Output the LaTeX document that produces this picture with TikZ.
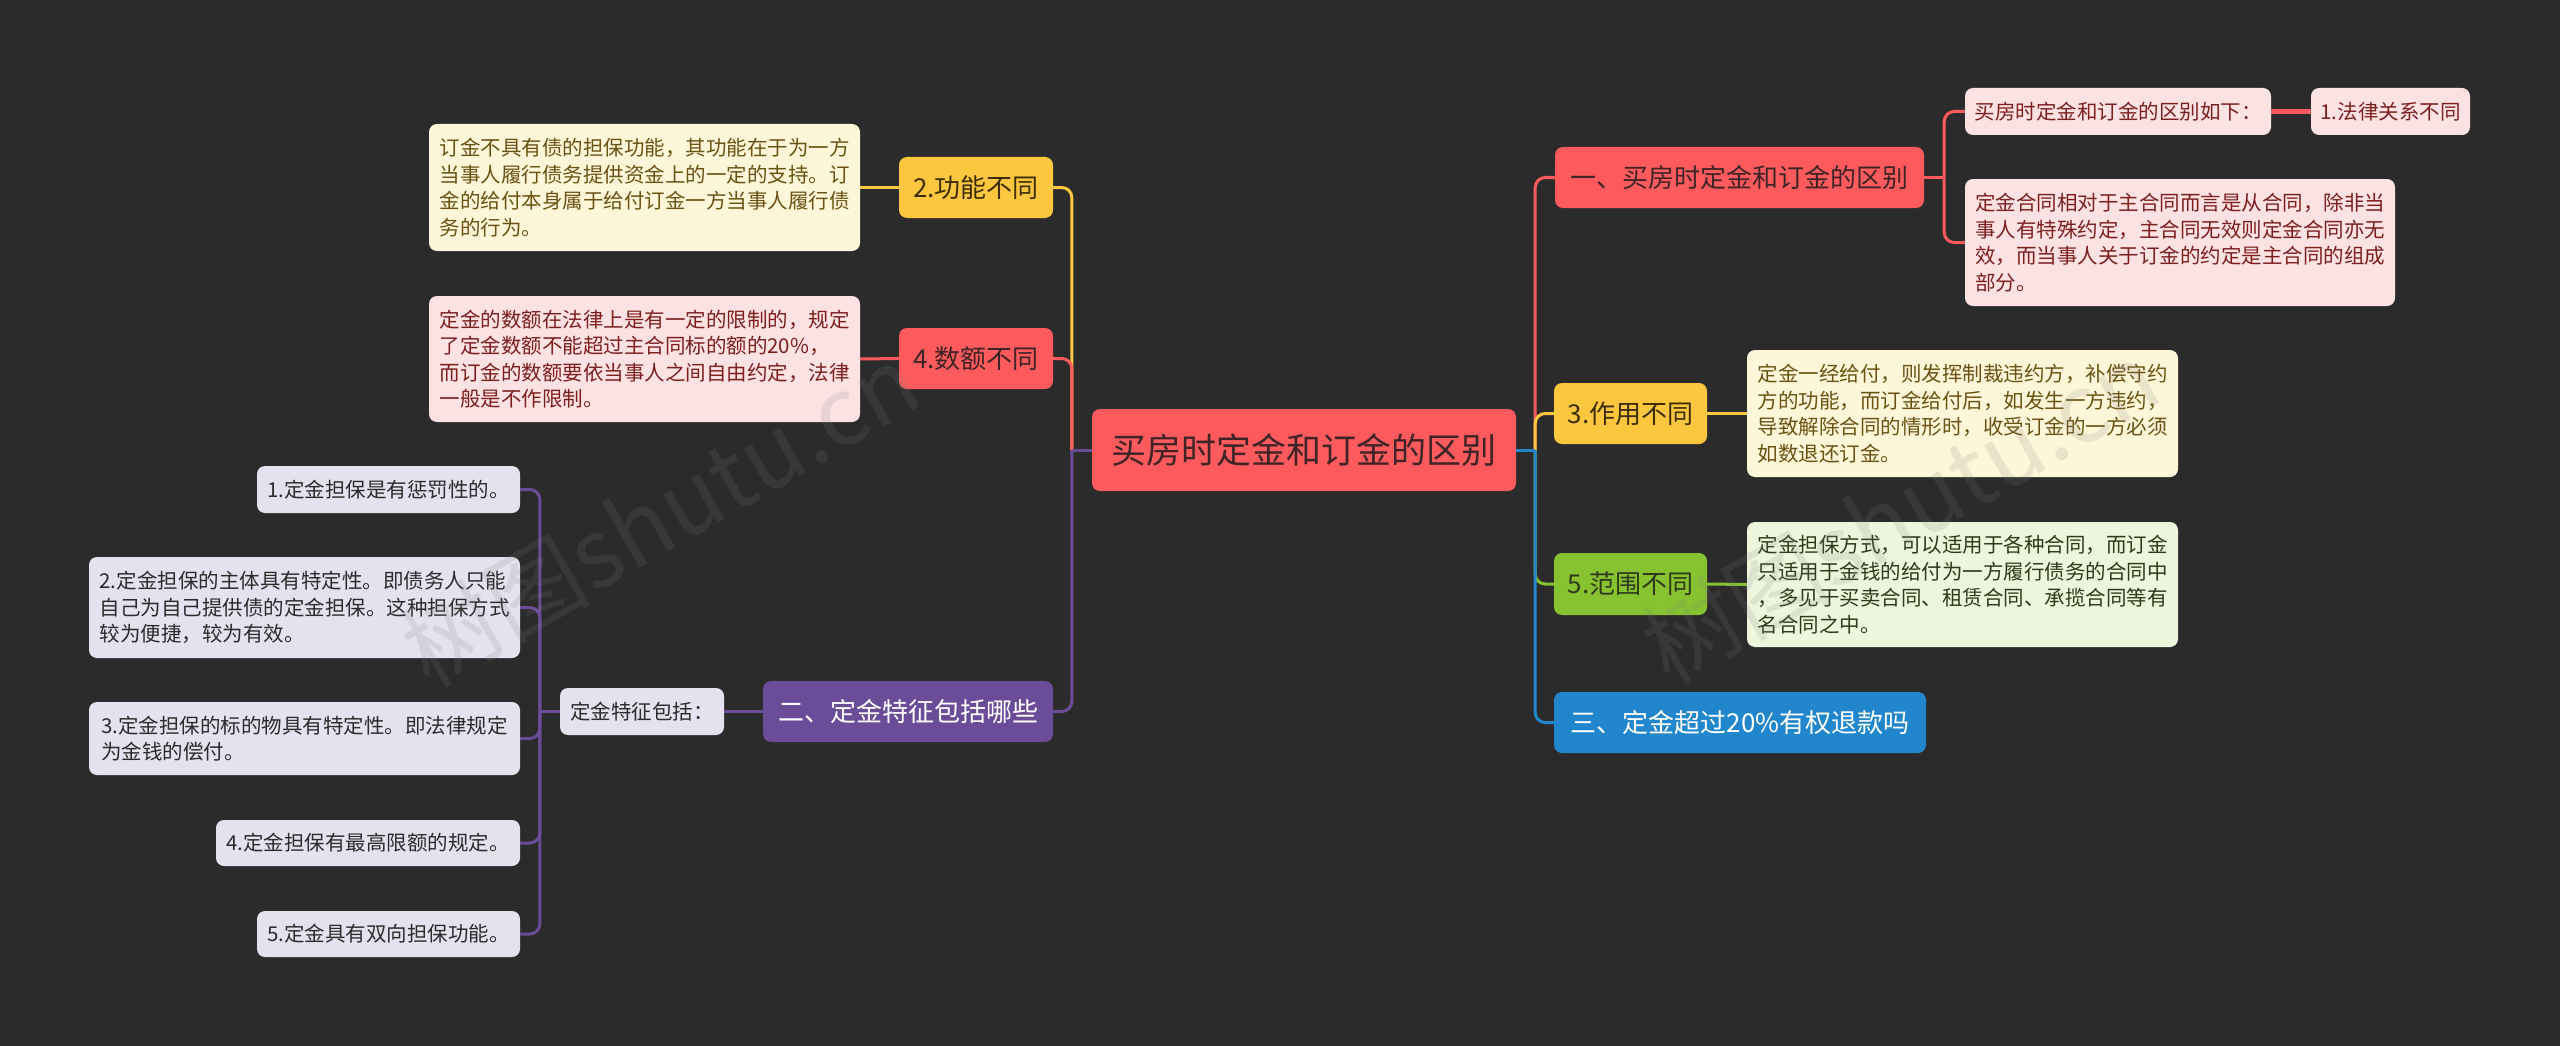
\documentclass[tikz,border=0pt]{standalone}
\usepackage{fontspec}
\setmainfont{Noto Sans CJK SC}
\definecolor{bg}{HTML}{2B2B2B}
\definecolor{cRed}{HTML}{FC5A5C}
\definecolor{cYel}{HTML}{FCC63F}
\definecolor{cGrn}{HTML}{87C231}
\definecolor{cBlu}{HTML}{2186CB}
\definecolor{cPur}{HTML}{6A4C98}
\definecolor{lPink}{HTML}{FDE2E3}
\definecolor{lCream}{HTML}{FEF6D9}
\definecolor{lGrn}{HTML}{EDF5DC}
\definecolor{lLav}{HTML}{E5E1EE}
\definecolor{tDark}{HTML}{3E2426}
\definecolor{tPink}{HTML}{7D1F1F}
\definecolor{tCream}{HTML}{6B5214}
\definecolor{tGrnD}{HTML}{2E3A1A}
\definecolor{tYel}{HTML}{3D2E05}
\definecolor{tLav}{HTML}{2B2B2B}
\newcommand\mmlink[4]{%
  \draw[ln,#1] (#2) -- ([xshift=#3]#2);
  \draw[ln,#1,rounded corners=10pt] ([xshift=#3]#2) |- (#4);}
\begin{document}
\begin{tikzpicture}[x=1pt,y=-1pt,
  box/.style={rounded corners=8pt, inner sep=0pt, align=left},
  big/.style={box, font=\fontsize{26}{32}\selectfont, minimum height=61pt},
  small/.style={box, font=\fontsize{20.5}{26.5}\selectfont},
  ln/.style={line width=3pt},
  wm/.style={text=gray, opacity=0.16, font=\fontsize{95}{95}\selectfont, rotate=30}]
\fill[bg] (0,0) rectangle (2560,1046);
\useasboundingbox (0,0) rectangle (2560,1046);

% central node
\node[box, fill=cRed, text=tDark, font=\fontsize{35}{40}\selectfont,
      minimum width=424pt, minimum height=82pt] (center) at (1304,450) {买房时定金和订金的区别};

% right side
\node[big, fill=cRed, text=tDark, minimum width=369pt] (one) at (1739.5,177.5) {一、买房时定金和订金的区别};
\node[small, fill=lPink, text=tPink, minimum width=306pt, minimum height=47pt] (rsuba) at (2118,111.5) {买房时定金和订金的区别如下：};
\node[small, fill=lPink, text=tPink, minimum width=159pt, minimum height=47pt] (rlaw) at (2390.5,111.5) {1.法律关系不同};
\node[small, fill=lPink, text=tPink, minimum width=430pt, minimum height=127pt] (rsubb) at (2180,242.5)
 {定金合同相对于主合同而言是从合同，除非当\\事人有特殊约定，主合同无效则定金合同亦无\\效，而当事人关于订金的约定是主合同的组成\\部分。};

\node[big, fill=cYel, text=tYel, minimum width=153pt] (three) at (1630.5,413.5) {3.作用不同};
\node[small, fill=lCream, text=tCream, minimum width=431pt, minimum height=127pt] (threebox) at (1962.5,413.5)
 {定金一经给付，则发挥制裁违约方，补偿守约\\方的功能，而订金给付后，如发生一方违约，\\导致解除合同的情形时，收受订金的一方必须\\如数退还订金。};

\node[big, fill=cGrn, text=tGrnD, minimum width=153pt, minimum height=62pt] (five) at (1630.5,584) {5.范围不同};
\node[small, fill=lGrn, text=tGrnD, minimum width=431pt, minimum height=125pt] (fivebox) at (1962.5,584.5)
 {定金担保方式，可以适用于各种合同，而订金\\只适用于金钱的给付为一方履行债务的合同中\\，多见于买卖合同、租赁合同、承揽合同等有\\名合同之中。};

\node[big, fill=cBlu, text=white, minimum width=372pt] (san) at (1740,722.5) {三、定金超过20\%有权退款吗};

% left side
\node[big, fill=cYel, text=tYel, minimum width=154pt] (two) at (976,187.5) {2.功能不同};
\node[small, fill=lCream, text=tCream, minimum width=431pt, minimum height=127pt] (twobox) at (644.5,187.5)
 {订金不具有债的担保功能，其功能在于为一方\\当事人履行债务提供资金上的一定的支持。订\\金的给付本身属于给付订金一方当事人履行债\\务的行为。};

\node[big, fill=cRed, text=tDark, minimum width=154pt] (four) at (976,358.5) {4.数额不同};
\node[small, fill=lPink, text=tPink, minimum width=431pt, minimum height=126pt] (fourbox) at (644.5,359)
 {定金的数额在法律上是有一定的限制的，规定\\了定金数额不能超过主合同标的额的20\%，\\而订金的数额要依当事人之间自由约定，法律\\一般是不作限制。};

\node[big, fill=cPur, text=white, minimum width=290pt] (er) at (908,711.5) {二、定金特征包括哪些};
\node[small, fill=lLav, text=tLav, minimum width=164pt, minimum height=47pt] (feat) at (642,711.5) {定金特征包括：};
\node[small, fill=lLav, text=tLav, minimum width=263pt, minimum height=47pt] (fa) at (388.5,489.5) {1.定金担保是有惩罚性的。};
\node[small, fill=lLav, text=tLav, minimum width=431pt, minimum height=101pt] (fb) at (304.5,607.5)
 {2.定金担保的主体具有特定性。即债务人只能\\自己为自己提供债的定金担保。这种担保方式\\较为便捷，较为有效。};
\node[small, fill=lLav, text=tLav, minimum width=431pt, minimum height=73pt] (fc) at (304.5,738.5)
 {3.定金担保的标的物具有特定性。即法律规定\\为金钱的偿付。};
\node[small, fill=lLav, text=tLav, minimum width=304pt, minimum height=46pt] (fd) at (368,843) {4.定金担保有最高限额的规定。};
\node[small, fill=lLav, text=tLav, minimum width=263pt, minimum height=46pt] (fe) at (388.5,934) {5.定金具有双向担保功能。};

% connectors: right of center
\mmlink{cRed}{center.east}{19pt}{one.west}
\mmlink{cYel}{center.east}{19pt}{three.west}
\mmlink{cGrn}{center.east}{19pt}{five.west}
\mmlink{cBlu}{center.east}{19pt}{san.west}
% red sub-branch
\mmlink{cRed}{one.east}{20pt}{rsuba.west}
\mmlink{cRed}{one.east}{20pt}{rsubb.west}
\draw[line width=5pt, cRed] (rsuba.east) -- (rlaw.west);
\draw[ln, cYel] (three.east) -- (threebox.west);
\draw[ln, cGrn] (five.east) -- (fivebox.west);
% connectors: left of center
\mmlink{cYel}{center.west}{-20pt}{two.east}
\mmlink{cRed}{center.west}{-20pt}{four.east}
\mmlink{cPur}{center.west}{-20pt}{er.east}
\draw[ln, cYel] (two.west) -- (twobox.east);
\draw[ln, cRed] (four.west) -- (fourbox.east);
\draw[ln, cPur] (er.west) -- (feat.east);
\mmlink{cPur}{feat.west}{-20pt}{fa.east}
\mmlink{cPur}{feat.west}{-20pt}{fb.east}
\mmlink{cPur}{feat.west}{-20pt}{fc.east}
\mmlink{cPur}{feat.west}{-20pt}{fd.east}
\mmlink{cPur}{feat.west}{-20pt}{fe.east}

% watermarks
\node[wm] (wmleft) at (660,515) {树图shutu.cn};
\node[wm] (wmright) at (1900,512) {树图shutu.cn};
\end{tikzpicture}
\end{document}
